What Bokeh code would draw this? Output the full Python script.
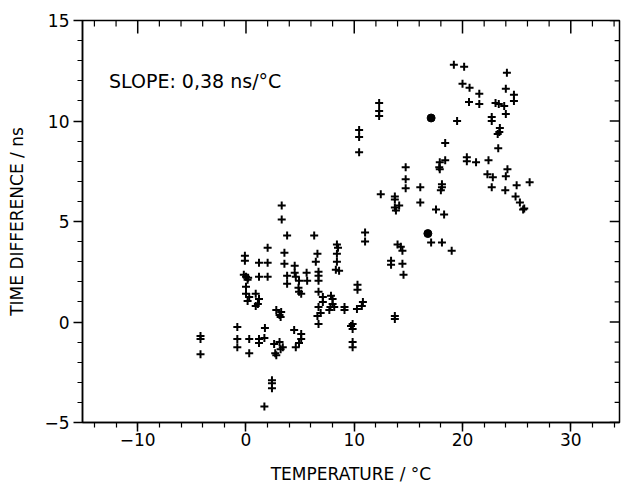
from bokeh.plotting import figure
from bokeh.models import LinearAxis, SingleIntervalTicker, Range1d, ColumnDataSource
from bokeh.core.properties import value
from bokeh.embed import file_html
from bokeh.resources import INLINE

# ---- data ----
temp_c = [
    -4.2, -4.2, -4.2, -0.8, -0.8, -0.8, 0.3, 0.3, 1.2, 1.7, 1.2, 1.75,
    2.6, 3.1, 3.4, 3.2, 2.8, 2.7, 4.45, 5.1, 5.1, 4.9, 4.6,
    2.4, 2.4, 2.4, 1.7,
    -0.1, -0.1, 1.2, 2.0, 2.0, 3.55, 3.55, 4.5, 6.45, 6.6,
    1.2, 2.0, 3.8, 3.8, 4.5, 4.6, 4.9, 5.6, 5.65, 4.85, 4.9, 5.1,
    0.0, 0.15, 0.0, 0.0, 0.3, 0.15, -0.2, 0.2,
    0.9, 1.2, 1.1, 0.9, 2.8, 3.1, 3.25, 3.2,
    3.3, 3.3, 3.8, 6.3,
    6.7, 6.7, 6.7, 6.7, 7.1, 7.1, 6.7, 6.9, 6.6, 6.7,
    7.85, 8.0, 8.0, 7.8, 7.7, 8.15,
    8.4, 8.5, 8.4, 8.4, 8.3, 8.6,
    9.1, 9.1, 10.3, 10.3, 10.8, 10.7, 10.25,
    9.85, 9.7, 9.85, 9.85, 9.85,
    11.0, 11.0, 13.75, 13.75,
    13.4, 13.4, 14.45, 14.55, 14.0, 14.45, 14.3,
    17.1, 18.1, 19.0,
    10.45, 10.45, 10.45, 12.3, 12.3, 12.3, 12.45,
    13.75, 13.75, 14.15, 13.75, 13.85,
    14.75, 14.75, 14.75, 16.1, 16.1, 17.55, 18.3,
    18.1, 18.1, 18.0, 18.4, 18.4, 17.9, 17.85, 17.9,
    19.2, 20.15, 20.0, 20.65, 21.55, 20.6, 21.55,
    24.1, 24.0, 24.75, 24.75, 23.05, 23.35, 23.85, 24.0,
    19.5, 22.7, 22.7, 23.45, 23.4, 23.25, 23.3,
    20.4, 20.4, 21.25, 22.4, 22.3, 22.8, 24.15, 24.0,
    26.2, 22.7, 23.95, 25.0, 24.9, 25.3, 25.7, 25.6,
]
time_diff_ns = [
    -0.7, -0.85, -1.6, -0.25, -0.85, -1.25, -0.85, -1.55, -0.85, -0.8, -1.05, -0.3,
    -1.1, -1.0, -1.25, -1.35, -1.65, -1.55, -0.4, -0.6, -0.85, -1.05, -1.25,
    -2.9, -3.05, -3.3, -4.2,
    3.3, 3.05, 2.95, 2.95, 3.7, 3.45, 2.9, 2.8, 3.0, 3.4,
    2.25, 2.25, 2.3, 1.9, 2.45, 2.25, 2.05, 2.45, 2.05, 1.7, 1.5, 1.4,
    2.25, 2.1, 1.75, 1.4, 1.25, 1.05, 2.35, 2.2,
    1.4, 1.15, 0.9, 0.8, 0.6, 0.35, 0.5, 0.25,
    5.8, 5.1, 4.3, 4.3,
    2.5, 2.3, 2.05, 1.5, 1.25, 1.0, 0.75, 0.45, 0.3, -0.1,
    1.3, 1.15, 0.9, 0.75, 0.6, 0.75,
    3.85, 3.7, 3.4, 3.0, 2.6, 2.55,
    0.75, 0.6, 1.85, 1.6, 1.0, 0.8, 0.65,
    -0.1, -0.2, -0.35, -1.0, -1.25,
    4.45, 4.0, 0.3, 0.15,
    3.05, 2.85, 2.9, 2.35, 3.85, 3.55, 3.75,
    3.95, 3.95, 3.55,
    9.55, 9.2, 8.45, 10.9, 10.5, 10.25, 6.35,
    6.25, 6.1, 5.8, 5.7, 5.55,
    7.7, 7.1, 6.65, 6.7, 5.95, 5.6, 5.35,
    6.85, 6.7, 6.55, 8.9, 8.05, 7.95, 7.7, 7.6,
    12.8, 12.7, 11.85, 11.65, 11.35, 10.95, 10.85,
    12.4, 11.6, 11.3, 11.0, 10.9, 10.85, 10.75, 10.35,
    10.0, 10.2, 10.0, 9.65, 9.45, 9.35, 8.65,
    8.2, 8.0, 7.95, 8.05, 7.35, 7.2, 7.6, 7.25,
    6.95, 6.7, 6.55, 6.8, 6.25, 5.95, 5.65, 5.6,
]
dot_temp_c = [17.1, 16.8]
dot_time_diff_ns = [10.15, 4.4]

x_ticks = [-10, 0, 10, 20, 30]
x_minor_ticks = [-14, -12, -8, -6, -4, -2, 2, 4, 6, 8, 12, 14, 16, 18, 22, 24, 26, 28, 32, 34]
y_ticks = [-5, 0, 5, 10, 15]
y_minor_ticks = [-4, -3, -2, -1, 1, 2, 3, 4, 6, 7, 8, 9, 11, 12, 13, 14]
slope_text = "SLOPE: 0,38 ns/°C"

FONT = "DejaVu Sans"
X0, X1 = -15.1, 34.5
Y0, Y1 = -5, 15

p = figure(width=621, height=486, output_backend="svg", toolbar_location=None,
           x_range=Range1d(X0, X1), y_range=Range1d(Y0, Y1),
           x_axis_location=None, y_axis_location=None,
           min_border_left=82, min_border_right=2, min_border_top=20, min_border_bottom=63)
p.grid.visible = False
p.outline_line_color = "black"
p.outline_line_width = 1.5
p.background_fill_color = "white"
p.border_fill_color = "white"

def minus(v):
    return ("\u2212" + str(abs(v))) if v < 0 else str(v)

def style_axis(ax):
    ax.axis_line_color = "black"
    ax.axis_line_width = 1.5
    ax.major_tick_line_color = "black"
    ax.minor_tick_line_color = "black"
    ax.major_tick_line_width = 1.5
    ax.minor_tick_line_width = 1.2
    ax.major_tick_in, ax.major_tick_out = 0, 9
    ax.minor_tick_in, ax.minor_tick_out = 0, 5
    ax.major_label_text_font = FONT
    ax.major_label_text_font_size = "17px"
    ax.major_label_text_color = "black"
    ax.axis_label_text_font = FONT
    ax.axis_label_text_font_size = "17px"
    ax.axis_label_text_font_style = "normal"
    ax.axis_label_text_color = "black"

bottom = LinearAxis(ticker=SingleIntervalTicker(interval=10, num_minor_ticks=5),
                    axis_label="TEMPERATURE / °C")
bottom.major_label_overrides = {v: minus(v) for v in x_ticks}
style_axis(bottom)
bottom.major_label_standoff = 1
bottom.axis_label_standoff = 15
p.add_layout(bottom, "below")

left = LinearAxis(ticker=SingleIntervalTicker(interval=5, num_minor_ticks=5),
                  axis_label="TIME DIFFERENCE / ns")
left.major_label_overrides = {v: minus(v) for v in y_ticks}
style_axis(left)
left.major_label_standoff = 4
left.axis_label_standoff = 14
p.add_layout(left, "left")

# inward ticks on the top and right frame edges (no labels there)
top_major_len, top_minor_len = 0.65, 0.3     # in y data units
right_major_len, right_minor_len = 0.9, 0.45  # in x data units
p.segment(x0=x_ticks, y0=[Y1] * len(x_ticks), x1=x_ticks,
          y1=[Y1 - top_major_len] * len(x_ticks), line_color="black", line_width=1.5)
p.segment(x0=x_minor_ticks, y0=[Y1] * len(x_minor_ticks), x1=x_minor_ticks,
          y1=[Y1 - top_minor_len] * len(x_minor_ticks), line_color="black", line_width=1.2)
p.segment(x0=[X1] * len(y_ticks), y0=y_ticks, x1=[X1 - right_major_len] * len(y_ticks),
          y1=y_ticks, line_color="black", line_width=1.5)
p.segment(x0=[X1] * len(y_minor_ticks), y0=y_minor_ticks,
          x1=[X1 - right_minor_len] * len(y_minor_ticks), y1=y_minor_ticks,
          line_color="black", line_width=1.2)

src = ColumnDataSource(dict(x=temp_c, y=time_diff_ns))
p.scatter("x", "y", source=src, marker="cross", size=8, line_width=2, line_color="black")
dots = ColumnDataSource(dict(x=dot_temp_c, y=dot_time_diff_ns))
p.scatter("x", "y", source=dots, marker="circle", size=8, fill_color="black", line_color="black")

p.text(x=[-12.65], y=[12.0], text=[slope_text], text_font=value(FONT),
       text_font_size="19px", text_color="black", text_baseline="alphabetic")

open("out.html", "w").write(file_html(p, INLINE))
